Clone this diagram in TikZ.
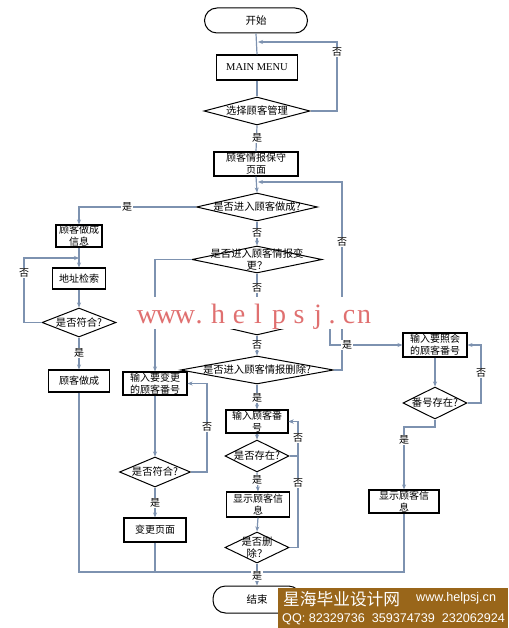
\documentclass[tikz,border=0pt]{standalone}
\usepackage{fontspec}
\setmainfont{Liberation Serif}
\newfontfamily\cjk{Noto Sans CJK SC}
\newfontfamily\wmfont{Liberation Serif}
\newfontfamily\bnfont{Liberation Sans}
\usetikzlibrary{shapes.geometric,arrows.meta}
\definecolor{conncol}{RGB}{125,146,176}
\definecolor{wmcol}{RGB}{224,112,112}
\definecolor{bancol}{RGB}{153,102,26}
\begin{document}
\begin{tikzpicture}[x=1pt,y=-1pt,
  box/.style={draw=black,line width=1.1pt,rectangle,inner sep=0pt,align=center,font=\cjk\fontsize{10}{12}\selectfont},
  dia/.style={draw=black,line width=1pt,diamond,inner sep=0pt},
  dtext/.style={inner sep=0pt,align=center,font=\cjk\fontsize{10.3}{12}\selectfont},
  term/.style={draw=black,line width=1pt,rectangle,rounded corners=12.5pt,inner sep=0pt,font=\cjk\fontsize{10.5}{12}\selectfont},
  conn/.style={draw=conncol,line width=1.2pt},
  arr/.style={conn,-{Stealth[length=5pt,width=4pt]}},
  lbl/.style={fill=white,inner sep=1pt,font=\cjk\fontsize{10}{10}\selectfont},
  wm/.style={inner sep=0pt,text=wmcol,font=\wmfont\fontsize{28}{28}\selectfont},
  bn/.style={inner sep=0pt,anchor=west,text=white},
]
\fill[white] (0,0) rectangle (508,628);
\useasboundingbox (0,0) rectangle (508,628);

% ---------- main column ----------
\node[term,minimum width=103pt,minimum height=25pt] (start) at (256,20.5) {开始};
\node[box,font=\rmfamily\fontsize{10.5}{12}\selectfont,minimum width=81pt,minimum height=25pt] (mm) at (257,67.5) {MAIN MENU};
\node[dia,minimum width=106pt,minimum height=28pt,label={[dtext]center:选择顾客管理}] (d1) at (257,111) {};
\node[box,minimum width=84pt,minimum height=24pt] (b2) at (256,164) {顾客情报保守\\页面};
\node[dia,minimum width=121pt,minimum height=28pt,label={[dtext]center:是否进入顾客做成?}] (d2) at (257,207) {};
\node[dia,minimum width=130pt,minimum height=27pt,label={[dtext]center:{是否进入顾客情报变\\更？}}] (d2b) at (257,259.5) {};
\node[dia,minimum width=128pt,minimum height=30pt] (d4) at (257,320) {};
\node[dia,minimum width=153pt,minimum height=28pt,label={[dtext]center:是否进入顾客情报删除?}] (d3) at (257,370) {};
\node[box,minimum width=62pt,minimum height=23pt] (bD1) at (257,421.5) {输入顾客番\\号};
\node[dia,minimum width=64pt,minimum height=32pt,label={[dtext]center:是否存在?}] (dD1) at (257,456) {};
\node[box,minimum width=63pt,minimum height=25pt] (bD2) at (258,504.5) {显示顾客信\\息};
\node[dia,minimum width=64pt,minimum height=31pt,label={[dtext]center:{是否删\\除？}}] (dD2) at (257,547.5) {};
\node[term,minimum width=88pt,minimum height=27pt] (end) at (257,599.5) {结束};

% ---------- left column ----------
\node[box,minimum width=46pt,minimum height=22pt] (bA1) at (79,236) {顾客做成\\信息};
\node[box,minimum width=53pt,minimum height=21pt] (bA2) at (79,278.5) {地址检索};
\node[dia,minimum width=74pt,minimum height=29pt,label={[dtext]center:是否符合?}] (dA) at (79,322.5) {};
\node[box,minimum width=61pt,minimum height=22pt] (bA3) at (79,381) {顾客做成};

% ---------- change column ----------
\node[box,minimum width=64pt,minimum height=23pt] (bC1) at (155,383.5) {输入要变更\\的顾客番号};
\node[dia,minimum width=71pt,minimum height=30pt,label={[dtext]center:是否符合?}] (dC) at (155,472) {};
\node[box,minimum width=62pt,minimum height=24pt] (bC2) at (155,530) {变更页面};

% ---------- right column ----------
\node[box,minimum width=64pt,minimum height=24pt] (bE1) at (435,345) {输入要照会\\的顾客番号};
\node[dia,minimum width=64pt,minimum height=32pt,label={[dtext]center:番号存在?}] (dE) at (435,403) {};
\node[box,minimum width=70pt,minimum height=23pt] (bE2) at (404,501.5) {显示顾客信\\息};

% ---------- coordinates ----------
\coordinate (j1) at (258,42);
\coordinate (k1) at (337,42);
\coordinate (j2) at (258,182);
\coordinate (k2) at (342,182);
\coordinate (k3) at (342,370);
\coordinate (j3) at (79,258);
\coordinate (k4) at (24,258);
\coordinate (k5) at (330,345);
\coordinate (k6) at (298,421.5);
\coordinate (k7) at (207,383.5);
\coordinate (k8) at (481,345);
\coordinate (k9) at (435,427);
\coordinate (ca) at (79,572);
\coordinate (cb) at (404,572);
\coordinate (cc) at (155,572);

% ---------- connectors ----------
\draw[conn] (start.south) -- (mm.north);
\draw[conn] (mm.south) -- (d1.north);
\draw[arr] (d1.east) -| (k1) -- (j1);
\draw[conn] (d1.south) -- (b2.north);
\draw[arr] (b2.south) -- (d2.north);
\draw[arr] (d3.east) -- (k3) -- (k2) -- (j2);
\draw[arr] (d2.west) -| (bA1.north);
\draw[arr] (d2.south) -- (d2b.north);
\draw[arr] (bA1.south) -- (bA2.north);
\draw[arr] (bA2.south) -- (dA.north);
\draw[arr] (dA.west) -| (k4) -- (j3);
\draw[arr] (dA.south) -- (bA3.north);
\draw[conn] (bA3.south) -- (ca) -- (cb) -- (bE2.south);
\draw[conn] (bC2.south) -- (cc);
\draw[arr] (d2b.west) -| (bC1.north);
\draw[arr] (d2b.south) -- (d4.north);
\draw[arr] (d4.east) -| (k5) -- (bE1.west);
\draw[arr] (d4.south) -- (d3.north);
\draw[arr] (d3.south) -- (bD1.north);
\draw[arr] (bD1.south) -- (dD1.north);
\draw[arr] (dD1.east) -| (k6) -- (bD1.east);
\draw[arr] (dD1.south) -- (bD2.north);
\draw[arr] (bD2.south) -- (dD2.north);
\draw[arr] (dD2.east) -| (k6) -- (bD1.east);
\draw[arr] (bC1.south) -- (dC.north);
\draw[arr] (dC.east) -| (k7) -- (bC1.east);
\draw[arr] (dC.south) -- (bC2.north);
\draw[arr] (bE1.south) -- (dE.north);
\draw[arr] (dE.east) -| (k8) -- (bE1.east);
\draw[arr] (dE.south) -- (k9) -| (bE2.north);
\draw[arr] (dD2.south) -- (end.north);

% ---------- connector labels ----------
\node[lbl] (l1) at (337,52) {否};
\node[lbl] (l2) at (257,138) {是};
\node[lbl] (l3) at (342,242) {否};
\node[lbl] (l4) at (127,207) {是};
\node[lbl] (l5) at (257,233) {否};
\node[lbl] (l6) at (24,273) {否};
\node[lbl] (l7) at (79,353) {是};
\node[lbl] (l8) at (257,288) {否};
\node[lbl] (l9) at (347,345) {是};
\node[lbl] (l10) at (257,345) {否};
\node[lbl] (l11) at (257,398) {是};
\node[lbl] (l12) at (298,438) {否};
\node[lbl] (l13) at (257,480) {是};
\node[lbl] (l14) at (298,483) {否};
\node[lbl] (l15) at (207,427) {否};
\node[lbl] (l16) at (155,503) {是};
\node[lbl] (l17) at (481,373) {否};
\node[lbl] (l18) at (404,440) {是};
\node[lbl] (l19) at (257,576) {是};

% ---------- watermark ----------
\fill[white] (131,297) rectangle (372,329);
\foreach \c/\x [count=\i] in {w/147,w/166,w/185,./199,h/218,e/239,l/258,p/279,s/299,j/318,./332,c/349,n/364}
  \node[wm,anchor=base] (wm\i) at (\x,323) {\c};

% ---------- banner ----------
\fill[bancol] (278,588) rectangle (508,628);
\node[bn,font=\cjk\fontsize{16.7}{17}\selectfont] (bt1) at (283,599) {星海毕业设计网};
\node[bn,font=\bnfont\fontsize{12.6}{13}\selectfont] (bt2) at (416,598) {www.helpsj.cn};
\node[bn,font=\bnfont\fontsize{12.6}{13}\selectfont] (bt3) at (282,619) {QQ: 82329736\ \ 359374739\ \ 232062924};
\end{tikzpicture}
\end{document}
